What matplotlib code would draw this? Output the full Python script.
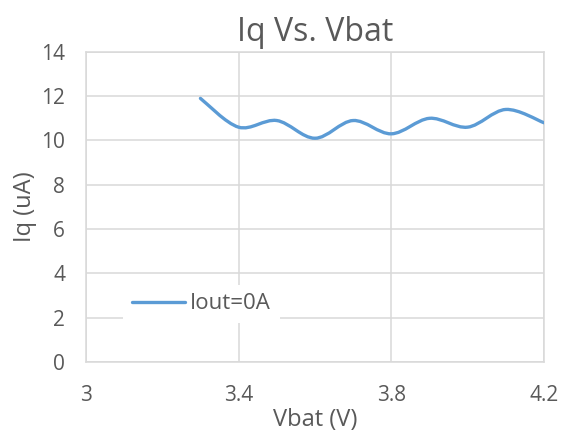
import matplotlib.pyplot as plt
from matplotlib.path import Path
from matplotlib.patches import PathPatch
from matplotlib.lines import Line2D

# data
vbat = [3.3, 3.4, 3.5, 3.6, 3.7, 3.8, 3.9, 4.0, 4.1, 4.2]
iq = [11.9, 10.6, 10.9, 10.1, 10.9, 10.3, 11.0, 10.6, 11.4, 10.8]
series_name = 'Iout=0A'
xticks = [3, 3.4, 3.8, 4.2]
yticks = [0, 2, 4, 6, 8, 10, 12, 14]

plt.rcParams['font.family'] = ['Open Sans', 'DejaVu Sans']
txt = '#595959'
grid = '#d9d9d9'
blue = '#5b9bd5'

fig = plt.figure(figsize=(5.69, 4.36), dpi=100)
ax = fig.add_axes([0.151, 0.170, 0.805, 0.711])

# excel style smoothed line: cubic bezier through each point
n = len(vbat)
verts = [(vbat[0], iq[0])]
codes = [Path.MOVETO]
for i in range(n - 1):
    p0 = (vbat[max(i - 1, 0)], iq[max(i - 1, 0)])
    p1 = (vbat[i], iq[i])
    p2 = (vbat[i + 1], iq[i + 1])
    p3 = (vbat[min(i + 2, n - 1)], iq[min(i + 2, n - 1)])
    c1 = (p1[0] + (p2[0] - p0[0]) / 6, p1[1] + (p2[1] - p0[1]) / 6)
    c2 = (p2[0] - (p3[0] - p1[0]) / 6, p2[1] - (p3[1] - p1[1]) / 6)
    verts += [c1, c2, p2]
    codes += [Path.CURVE4] * 3
ax.add_patch(PathPatch(Path(verts, codes), fill=False, edgecolor=blue,
                       lw=2.4, capstyle='round', zorder=3))

ax.set_xlim(3, 4.2)
ax.set_ylim(0, 14)
ax.set_xticks(xticks)
ax.set_xticklabels(['3', '3.4', '3.8', '4.2'])
ax.set_yticks(yticks)
ax.grid(True, color=grid, lw=1.1)
ax.set_axisbelow(True)
for s in ax.spines.values():
    s.set_color(grid)
    s.set_linewidth(1.1)
ax.tick_params(length=0, labelsize=15, colors=txt)
ax.tick_params(axis='x', pad=17)
ax.tick_params(axis='y', pad=15)

ax.set_title('Iq Vs. Vbat', fontsize=23, color=txt, pad=8)
ax.set_xlabel('Vbat (V)', fontsize=17, color=txt, labelpad=1)
ax.set_ylabel('Iq (uA)', fontsize=17, color=txt, labelpad=3)

h = Line2D([], [], color=blue, lw=2.4, solid_capstyle='round')
leg = ax.legend([h], [series_name], loc='center left', bbox_to_anchor=(0.057, 0.187),
                frameon=True, fontsize=16, handlelength=2.4, handletextpad=0.2,
                borderpad=0.4, fancybox=False)
leg.get_frame().set_edgecolor('none')
leg.get_frame().set_facecolor('white')
leg.get_frame().set_alpha(1)
for t in leg.get_texts():
    t.set_color(txt)

fig.savefig('out.png', dpi=100)
